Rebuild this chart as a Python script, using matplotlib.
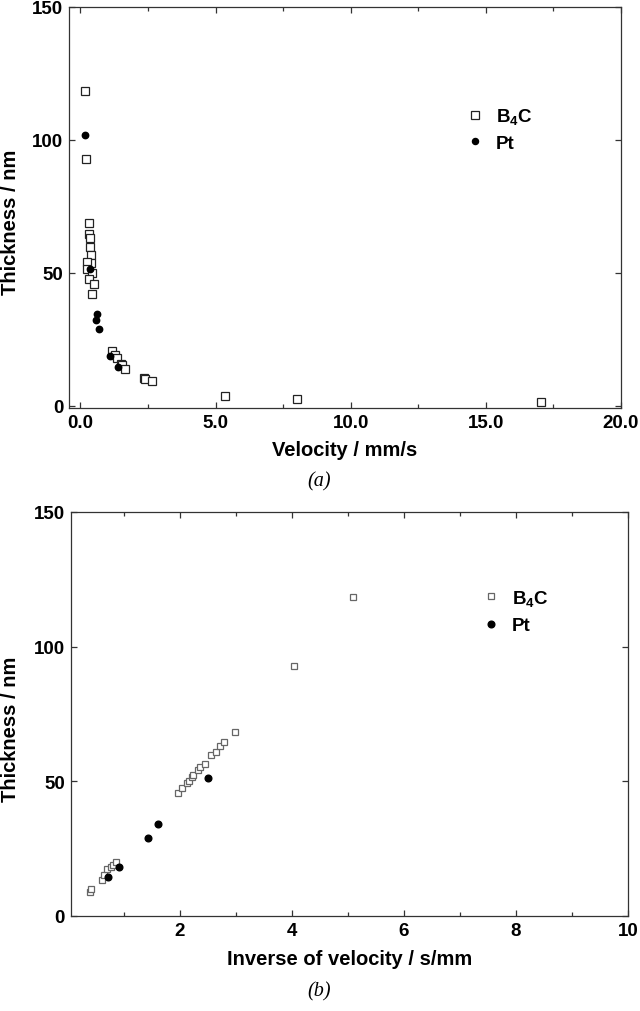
import matplotlib
matplotlib.use("Agg")
import matplotlib.pyplot as plt
from matplotlib.ticker import MultipleLocator

plt.rcParams["font.family"] = ["Liberation Sans", "DejaVu Sans"]
plt.rcParams["mathtext.default"] = "regular"

# ---- data ----
# (a) thickness vs velocity
vel_b4c = [0.17, 0.22, 0.31, 0.33, 0.34, 0.36, 0.38, 0.40, 0.26, 0.26, 0.43, 0.32, 0.49, 0.43,
           1.16, 1.30, 1.36, 1.51, 1.55, 1.66, 2.35, 2.40, 2.64, 5.36, 8.02, 17.05]
thk_b4c_a = [118.3, 92.8, 68.6, 64.6, 63.2, 59.9, 56.7, 53.8, 54.2, 51.3, 49.9, 47.8, 45.9, 42.0,
             20.6, 19.0, 18.0, 15.9, 15.5, 14.0, 10.4, 10.1, 9.3, 3.6, 2.6, 1.4]
vel_pt = [0.19, 0.37, 0.61, 0.59, 0.68, 1.08, 1.39]
thk_pt_a = [101.7, 51.3, 34.4, 32.3, 29.0, 18.8, 14.8]

# (b) thickness vs inverse velocity
inv_b4c = [0.39, 0.42, 0.61, 0.65, 0.71, 0.77, 0.80, 0.86, 1.97, 2.04, 2.13, 2.17, 2.22, 2.24,
           2.32, 2.36, 2.45, 2.56, 2.65, 2.71, 2.79, 2.99, 4.04, 5.10]
thk_b4c_b = [8.9, 10.0, 13.5, 15.3, 17.5, 18.3, 18.8, 20.1, 45.7, 47.5, 49.5, 50.3, 51.7, 52.4,
             54.1, 55.3, 56.4, 59.6, 61.0, 63.3, 64.5, 68.4, 92.8, 118.5]
inv_pt = [0.72, 0.92, 1.44, 1.62, 2.50]
thk_pt_b = [14.3, 18.3, 28.8, 34.1, 51.1]

LBL_B4C = r"B$_4$C"
LBL_PT = "Pt"
SPINE = "#333333"
FS_TICK, FS_LAB = 13.5, 14.5

fig = plt.figure(figsize=(6.4, 10.12), dpi=100)
axa = fig.add_axes([69 / 640, 1 - 409 / 1012, 552 / 640, 401 / 1012])
axb = fig.add_axes([70.5 / 640, 1 - 917 / 1012, 557.5 / 640, 404 / 1012])


def style(ax):
    for s in ax.spines.values():
        s.set_color(SPINE); s.set_linewidth(0.9)
    ax.tick_params(which="both", direction="in", top=True, right=True,
                   color=SPINE, width=0.9, labelsize=FS_TICK, pad=4)
    ax.tick_params(which="major", length=4)
    ax.tick_params(which="minor", length=3)
    for t in ax.get_xticklabels() + ax.get_yticklabels():
        t.set_fontweight("bold")


# ---- (a) ----
axa.plot(vel_b4c, thk_b4c_a, ls="none", marker="s", ms=6.2, mfc="white", mec="#222222",
         mew=0.9, label=LBL_B4C)
axa.plot(vel_pt, thk_pt_a, ls="none", marker="o", ms=4.6, mfc="black", mec="black",
         label=LBL_PT)
axa.set_xlim(-0.42, 20.0); axa.set_ylim(-0.8, 150)
axa.xaxis.set_major_locator(MultipleLocator(5)); axa.xaxis.set_minor_locator(MultipleLocator(2.5))
axa.yaxis.set_major_locator(MultipleLocator(50))
axa.set_xticks([0, 5, 10, 15, 20])
axa.set_xticklabels(["0.0", "5.0", "10.0", "15.0", "20.0"])
style(axa)
axa.set_xlabel("Velocity / mm/s", fontsize=FS_LAB, fontweight="bold", va="center")
axa.xaxis.set_label_coords(0.5, -0.103)
axa.set_ylabel("Thickness / nm", fontsize=FS_LAB, fontweight="bold", va="center")
axa.yaxis.set_label_coords(-0.106, 0.465)
axa.legend(loc="upper left", bbox_to_anchor=(0.719, 0.752), frameon=False,
           prop={"weight": "bold", "size": 13.5}, handlelength=1.0, handletextpad=0.6,
           labelspacing=0.45, borderpad=0, borderaxespad=0, numpoints=1, markerscale=0.95)

# ---- (b) ----
axb.plot(inv_b4c, thk_b4c_b, ls="none", marker="s", ms=4.2, mfc="white", mec="#666666",
         mew=0.9, label=LBL_B4C)
axb.plot(inv_pt, thk_pt_b, ls="none", marker="o", ms=4.8, mfc="black", mec="black",
         label=LBL_PT)
axb.set_xlim(0.05, 10); axb.set_ylim(0, 150)
axb.xaxis.set_major_locator(MultipleLocator(2)); axb.xaxis.set_minor_locator(MultipleLocator(1))
axb.yaxis.set_major_locator(MultipleLocator(50))
style(axb)
axb.set_xlabel("Inverse of velocity / s/mm", fontsize=FS_LAB, fontweight="bold", va="center")
axb.xaxis.set_label_coords(0.5, -0.106)
axb.set_ylabel("Thickness / nm", fontsize=FS_LAB, fontweight="bold", va="center")
axb.yaxis.set_label_coords(-0.108, 0.464)
axb.legend(loc="upper left", bbox_to_anchor=(0.738, 0.812), frameon=False,
           prop={"weight": "bold", "size": 13.5}, handlelength=1.0, handletextpad=0.6,
           labelspacing=0.5, borderpad=0, borderaxespad=0, numpoints=1, markerscale=1.0)

fig.text(319 / 640, 1 - 482 / 1012, "(a)", ha="center", va="center", fontsize=14.5,
         family=["Liberation Serif", "DejaVu Serif"], style="italic")
fig.text(319 / 640, 1 - 992 / 1012, "(b)", ha="center", va="center", fontsize=14.5,
         family=["Liberation Serif", "DejaVu Serif"], style="italic")

fig.savefig("out.png", dpi=100)
